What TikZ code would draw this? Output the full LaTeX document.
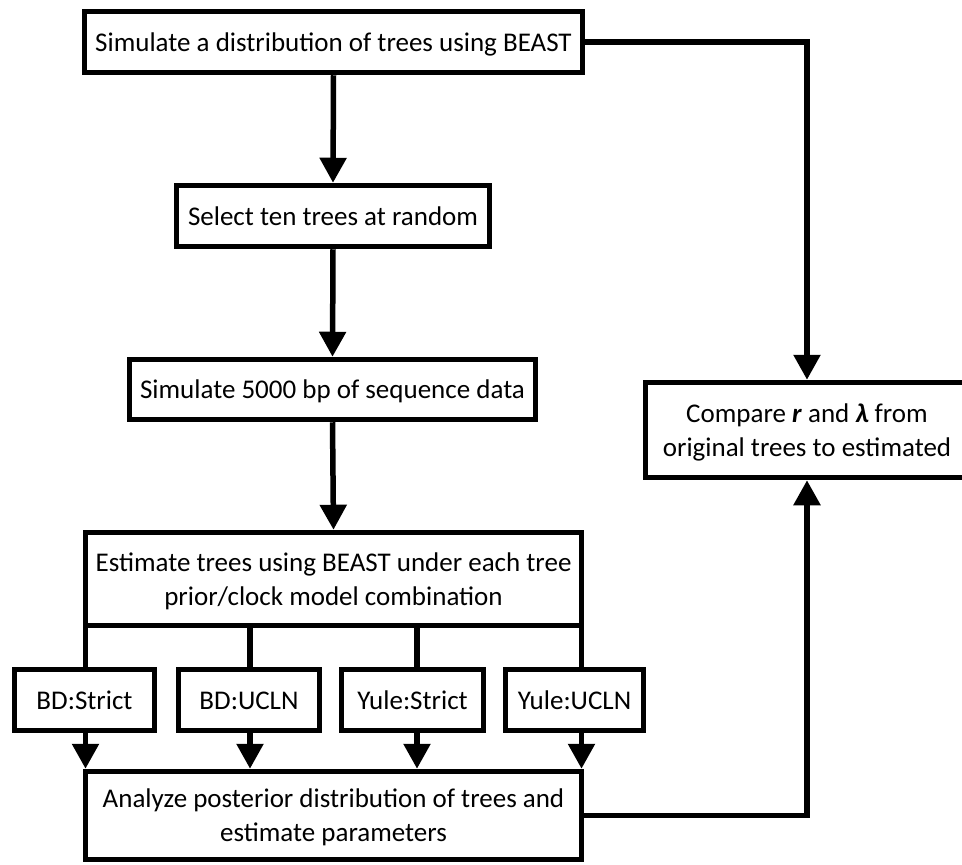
\documentclass[tikz,border=0pt]{standalone}
\usepackage{fontspec}
\setmainfont{Carlito}
\usetikzlibrary{arrows.meta,calc}
\begin{document}
\begin{tikzpicture}[x=1pt,y=-1pt,
  box/.style={draw=black,line width=5.5pt,fill=white,inner sep=0pt,align=center,
    font=\fontsize{27}{34}\selectfont},
  one/.style={text height=22pt,text depth=4pt},
  two/.style={text height=56pt,text depth=4pt},
  conn/.style={line width=5.5pt,line join=miter},
  arr/.style={conn,-{Triangle[length=25pt,width=26pt]}}]
\useasboundingbox (0,0) rectangle (962,865);
% boxes
\node[box,one,minimum width=498pt,minimum height=61pt] (top) at (333.5,42) {Simulate a distribution of trees using BEAST};
\node[box,one,minimum width=313pt,minimum height=61pt] (sel) at (333,216) {Select ten trees at random};
\node[box,one,minimum width=406pt,minimum height=60pt] (sim) at (332.5,389.5) {Simulate 5000 bp of sequence data};
\node[box,two,minimum width=496pt,minimum height=93pt] (est) at (333.5,579) {Estimate trees using BEAST under each tree\\prior/clock model combination};
\node[box,one,minimum width=140pt,minimum height=61pt] (bds) at (84.5,700) {BD:Strict};
\node[box,one,minimum width=141pt,minimum height=61pt] (bdu) at (249,700) {BD:UCLN};
\node[box,one,minimum width=142pt,minimum height=61pt] (ys) at (412.5,700) {Yule:Strict};
\node[box,one,minimum width=138pt,minimum height=61pt] (yu) at (574.5,700) {Yule:UCLN};
\node[box,two,minimum width=496pt,minimum height=88pt] (ana) at (333.5,815.5) {Analyze posterior distribution of trees and\\estimate parameters};
\node[box,two,minimum width=323pt,minimum height=95pt] (cmp) at (807,430) {Compare \textbf{\textit{r}} and \textbf{\textit{λ}} from\\original trees to estimated};
% branch positions
\coordinate (l1) at (85.5,0);
\coordinate (l2) at (250,0);
\coordinate (l3) at (417,0);
\coordinate (l4) at (581.5,0);
% main column
\draw[arr] (top.south) -- (sel.north);
\draw[arr] (sel.south) -- (sim.north);
\draw[arr] (sim.south) -- (est.north);
% branches
\foreach \l/\b in {l1/bds,l2/bdu,l3/ys,l4/yu}{
  \draw[conn] (\l |- est.south) -- (\l |- \b.north);
  \draw[arr] (\l |- \b.south) -- (\l |- ana.north);
}
% side connectors
\draw[arr] (top.east) -| (cmp.north);
\draw[arr] (ana.east) -| (cmp.south);
\end{tikzpicture}
\end{document}
